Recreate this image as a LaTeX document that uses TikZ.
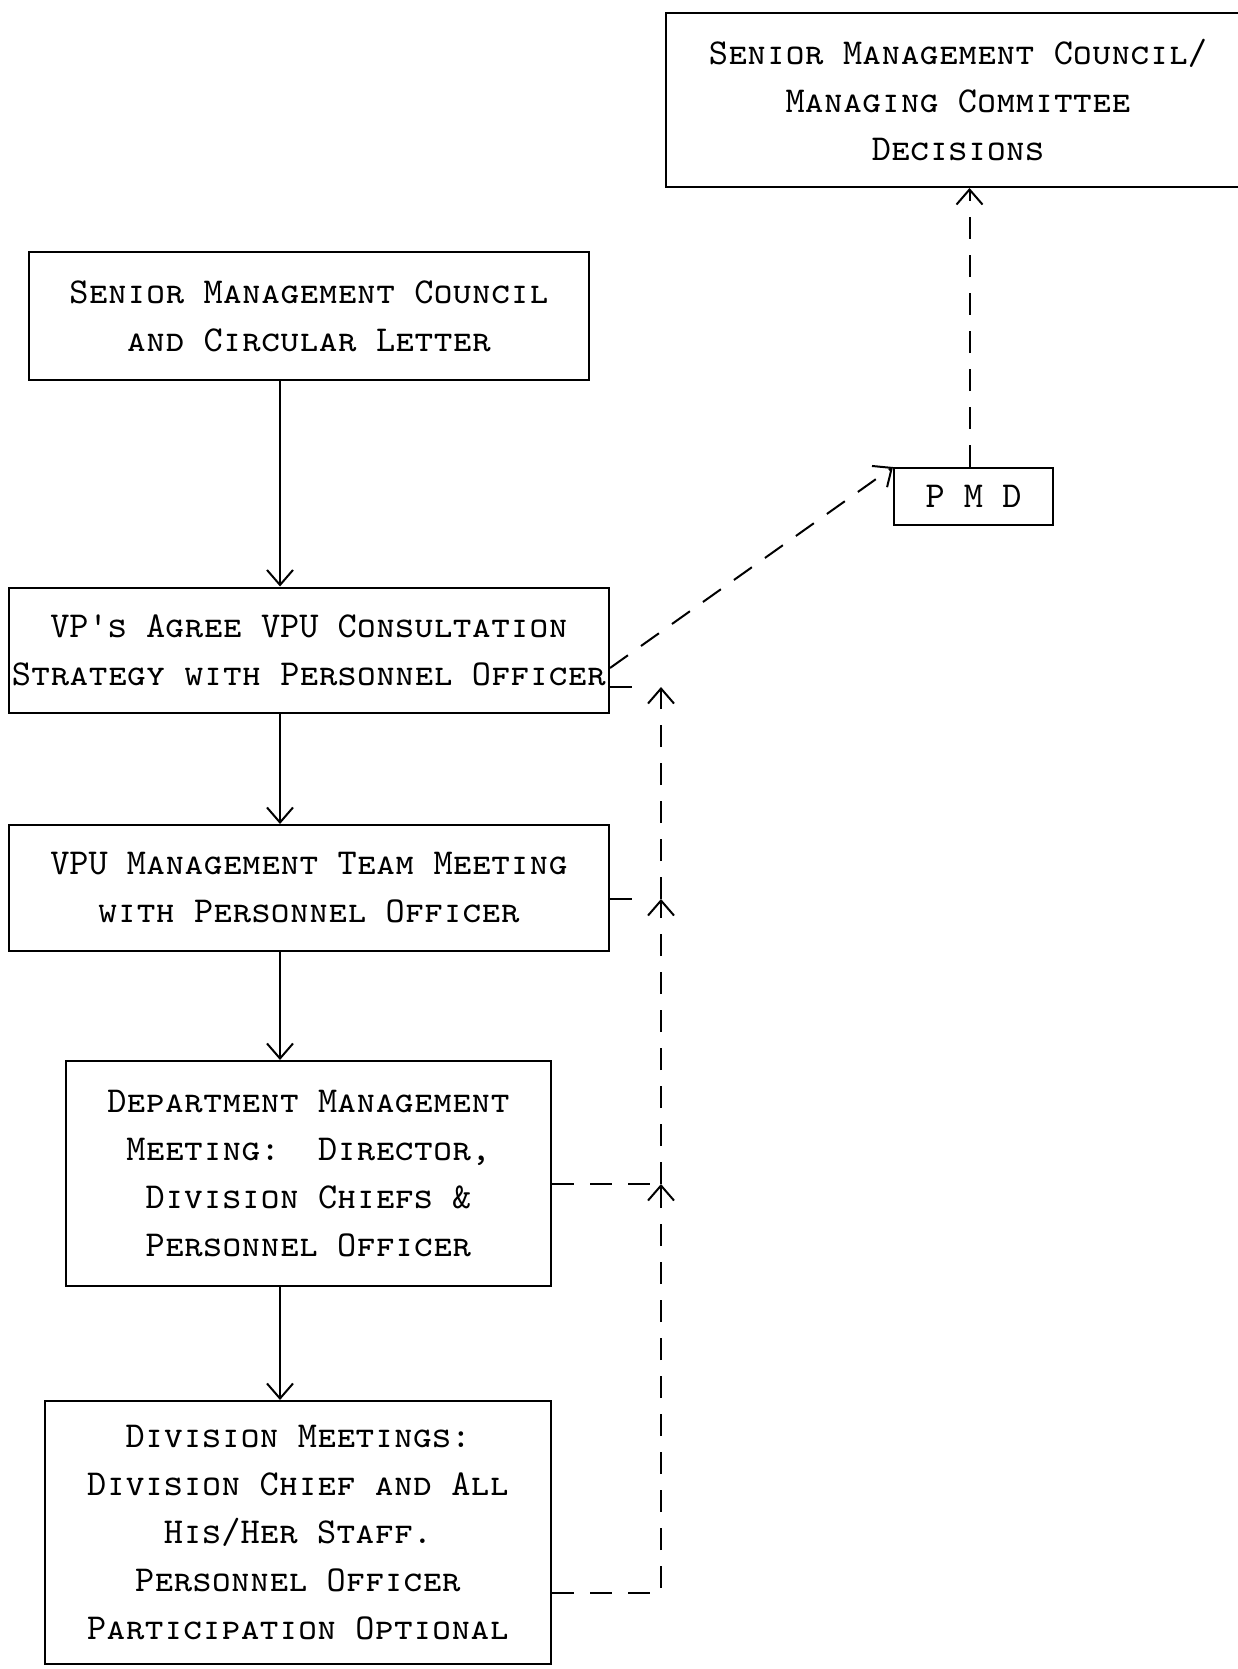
\documentclass[tikz,border=0pt]{standalone}
\usepackage{tikz}
\usetikzlibrary{arrows.meta,calc}

\begin{document}
\begin{tikzpicture}[x=1pt,y=-1pt,
    box/.style={draw,line width=2pt,inner sep=2pt,align=center,
      font=\fontsize{36.5}{48}\selectfont\ttfamily\scshape},
    flow/.style={line width=2pt,-{Straight Barb[length=15pt,width=26pt,line width=2pt]}},
    fb/.style={line width=2pt,dash pattern=on 22pt off 16pt},
    back/.style={fb,-{Straight Barb[length=15pt,width=26pt,line width=2pt]}}]
\useasboundingbox (0,0) rectangle (1238,1669);

% boxes
\node[box,minimum width=584pt,minimum height=174pt] (smcd) at (958,100) {Senior Management Council/\\Managing Committee\\Decisions};
\node[box,minimum width=560pt,minimum height=128pt] (smcl) at (309,316) {Senior Management Council\\and Circular Letter};
\node[box,minimum width=600pt,minimum height=125pt] (vps) at (309,650) {VP's Agree VPU Consultation\\Strategy with Personnel Officer};
\node[box,minimum width=600pt,minimum height=126pt] (vpu) at (309,888) {VPU Management Team Meeting\\with Personnel Officer};
\node[box,minimum width=485pt,minimum height=225pt] (dept) at (308.5,1173.5) {Department Management\\Meeting:\ \ Director,\\Division Chiefs \&\\Personnel Officer};
\node[box,minimum width=506pt,minimum height=263pt] (div) at (298,1532.5) {Division Meetings:\\Division Chief and All\\His/Her Staff.\\Personnel Officer\\Participation Optional};
\node[box,minimum width=159pt,minimum height=57pt] (pmd) at (973.5,496.5) {P M D};

\coordinate (spine) at (280,0);
\coordinate (j2) at (661,687);
\coordinate (j3) at (661,899);
\coordinate (j4) at (661,1184);
\coordinate (j5) at (661,1593);

% main chain
\draw[flow] (smcl.south -| spine) -- (vps.north -| spine);
\draw[flow] (vps.south -| spine) -- (vpu.north -| spine);
\draw[flow] (vpu.south -| spine) -- (dept.north -| spine);
\draw[flow] (dept.south -| spine) -- (div.north -| spine);

% feedback
\draw[back] (div.east |- j5) -- (j5) -- (j4);
\draw[back] (j4) -- (j3);
\draw[back] (j3) -- (j2);
\draw[fb] (dept.east |- j4) -- (j4);
\draw[fb] (vpu.east |- j3) -- ([xshift=-14pt]j3);
\draw[fb] (vps.east |- j2) -- ([xshift=-14pt]j2);

\draw[back] ([yshift=-18pt]vps.east) -- (pmd.north west);
\draw[back] ([xshift=-4pt]pmd.north) -- ([xshift=-4pt]pmd.north |- smcd.south);
\end{tikzpicture}
\end{document}
